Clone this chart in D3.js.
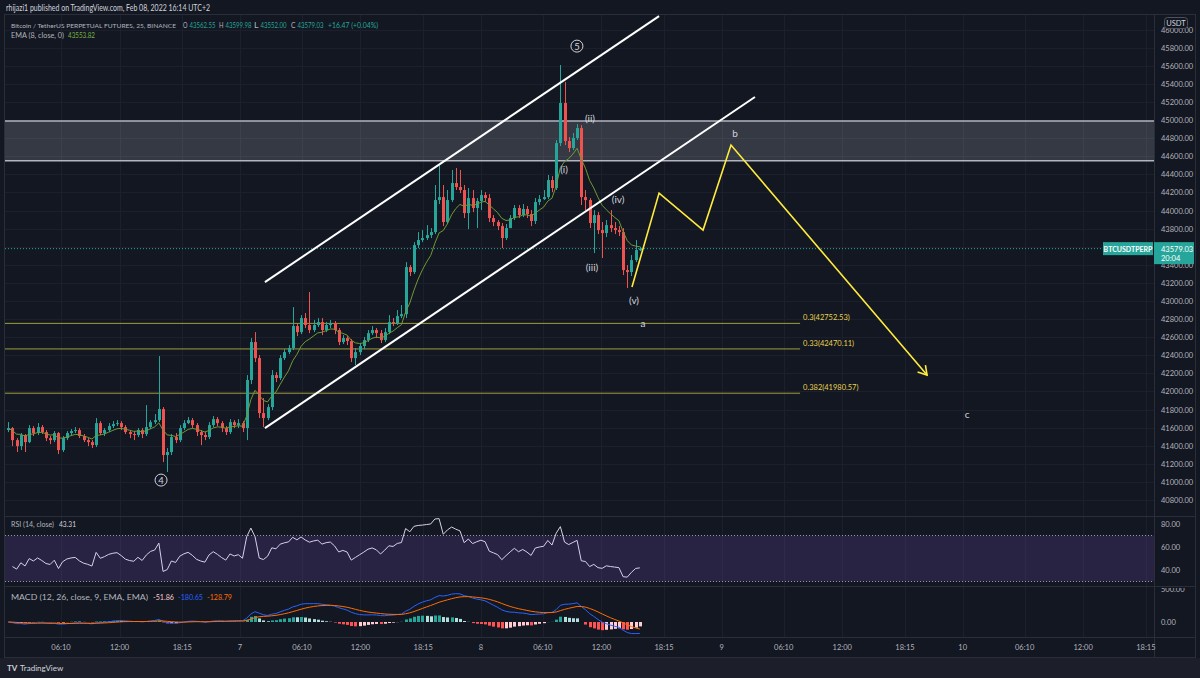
<!DOCTYPE html>
<html>
<head>
<meta charset="utf-8">
<script src="https://cdn.jsdelivr.net/npm/d3@7"></script>
<style>
body { margin: 0; background: #131722; }
svg { display: block; font-family: "Lato", "Open Sans", sans-serif; }
</style>
</head>
<body>
<svg id="chart" width="1200" height="678"></svg>
<script>
// 25 minute candles, BTCUSDT perp, open of each bar = close of the one before
const firstOpen = 41573
const closes = [41595,41462,41396,41518,41440,41595,41540,41606,41551,41484,
  41462,41540,41352,41484,41540,41562,41573,41507,41462,41440,
  41407,41650,41540,41573,41617,41639,41650,41606,41551,41529,
  41518,41573,41529,41606,41661,41683,41805,41297,41330,41496,
  41462,41595,41650,41683,41628,41551,41518,41496,41628,41694,
  41650,41595,41551,41661,41628,41650,41595,42126,42546,42369,
  41761,41706,41827,42181,42148,42369,42435,42480,42723,42656,
  42811,42734,42679,42734,42767,42679,42734,42756,42679,42546,
  42590,42557,42369,42435,42502,42568,42645,42679,42645,42568,
  42656,42767,42756,42833,42855,43375,43320,43618,43674,43696,
  43729,43762,44116,44149,43873,44116,44304,44260,44227,43972,
  44138,44028,44105,44171,44138,43917,43873,43828,43696,43806,
  43917,44028,43950,44017,43961,43884,44094,44127,44149,44337,
  44249,44746,45189,44769,44691,44802,44912,44149,44116,43862,
  43950,43784,43751,43839,43806,43784,43762,43342,43320,43452,
  43562.55,43579.03]
const highs = [41661,41606,41484,41540,41529,41628,41617,41650,41628,41573,
  41507,41562,41551,41507,41562,41584,41606,41595,41529,41484,
  41462,41706,41672,41595,41650,41672,41683,41672,41628,41573,
  41562,41595,41595,41849,41683,41750,42391,41827,41374,41529,
  41540,41628,41683,41717,41706,41650,41573,41551,41661,41728,
  41717,41672,41617,41694,41683,41694,41672,42181,42590,42656,
  42402,41927,41860,42236,42214,42402,42468,42513,42933,42745,
  42844,42867,43099,42789,42811,42811,42767,42789,42778,42701,
  42623,42612,42579,42480,42535,42601,42679,42723,42701,42679,
  42701,42844,42811,42900,42955,43430,43397,43651,43762,43784,
  43839,43806,44282,44503,44282,44227,44448,44470,44448,44282,
  44249,44227,44138,44227,44204,44182,43950,43895,43862,43851,
  43950,44061,44061,44072,44050,44005,44138,44171,44227,44393,
  44381,44780,45609,45421,44813,44857,44956,44945,44227,44138,
  44005,43983,43873,43895,44005,43873,43828,43806,43397,43508,
  43674,43599.98]
const lows = [41551,41396,41330,41352,41330,41429,41507,41518,41529,41451,
  41418,41440,41308,41330,41462,41518,41540,41484,41440,41396,
  41374,41385,41518,41507,41551,41595,41617,41573,41529,41484,
  41462,41496,41484,41507,41584,41639,41661,41219,41109,41297,
  41429,41440,41573,41639,41595,41507,41407,41462,41473,41606,
  41617,41551,41518,41529,41595,41595,41551,41462,42081,42325,
  41706,41606,41683,41794,42104,42126,42347,42413,42457,42612,
  42634,42701,42645,42656,42712,42623,42656,42701,42634,42513,
  42524,42513,42325,42292,42402,42468,42546,42623,42590,42535,
  42546,42634,42723,42734,42811,42811,43276,43298,43585,43651,
  43674,43696,43740,44072,43828,43851,44094,44227,44193,43917,
  43795,43983,43806,44005,44094,43873,43828,43784,43585,43674,
  43806,43895,43917,43928,43917,43828,43851,44061,44116,44127,
  44204,44227,44713,44724,44647,44669,44780,44061,44005,43806,
  43530,43740,43475,43707,43762,43740,43718,43287,43143,43276,
  43430,43552]
const candleStart = "2022-02-06 00:55"
const candleMinutes = 25

const priceTicks = d3.range(40800, 46001, 200)
const timeTicks = [
  ["2022-02-06 06:10", "06:10"], ["2022-02-06 12:00", "12:00"], ["2022-02-06 18:15", "18:15"],
  ["2022-02-07 00:00", "7"], ["2022-02-07 06:10", "06:10"], ["2022-02-07 12:00", "12:00"], ["2022-02-07 18:15", "18:15"],
  ["2022-02-08 00:00", "8"], ["2022-02-08 06:10", "06:10"], ["2022-02-08 12:00", "12:00"], ["2022-02-08 18:15", "18:15"],
  ["2022-02-09 00:00", "9"], ["2022-02-09 06:10", "06:10"], ["2022-02-09 12:00", "12:00"], ["2022-02-09 18:15", "18:15"],
  ["2022-02-10 00:00", "10"], ["2022-02-10 06:10", "06:10"], ["2022-02-10 12:00", "12:00"], ["2022-02-10 18:15", "18:15"]
]
const rsiTicks = [40, 60, 80]
const macdTicks = [0, 500]

const fibRatios = ["0.3", "0.33", "0.382"]
const fibPrices = [42752.53, 42470.11, 41980.57]
const fibSpan = ["2022-02-06 00:00", "2022-02-09 07:48"]
const zonePrices = [44550, 44990]
const channelUpper = [["2022-02-07 02:29", 43209], ["2022-02-08 17:45", 46150]]
const channelLower = [["2022-02-07 02:29", 41595], ["2022-02-09 03:18", 45255]]
const projection = [["2022-02-08 15:03", 43154], ["2022-02-08 17:45", 44193], ["2022-02-08 22:08", 43784],
  ["2022-02-09 00:55", 44724], ["2022-02-09 20:27", 42181]]
const waveLabels = [
  ["2022-02-08 08:17", 44459, "(i)"], ["2022-02-08 10:52", 45022, "(ii)"], ["2022-02-08 11:04", 43375, "(iii)"],
  ["2022-02-08 13:40", 44127, "(iv)"], ["2022-02-08 15:15", 43011, "(v)"],
  ["2022-02-08 16:09", 42756, "a"], ["2022-02-09 01:19", 44857, "b"], ["2022-02-10 00:26", 41750, "c"]
]
const circledLabels = [["2022-02-08 09:34", 45818, "5"], ["2022-02-06 16:08", 41020, "4"]]
const lastPrice = 43579.03
const ohlcLegend = [["O", "43562.55", 183], ["H", "43599.98", 219], ["L", "43552.00", 254], ["C", "43579.03", 291]]

const parse = d3.timeParse("%Y-%m-%d %H:%M")
const svg = d3.select("#chart")

const left = 5, right = 1154
const main = {top: 15, bottom: 516}
const rsiPane = {top: 517, bottom: 586}
const macdPane = {top: 587, bottom: 637}

const x = d3.scaleTime()
  .domain([parse("2022-02-06 00:00"), parse("2022-02-10 00:00")])
  .range([-0.9, 962.7])
const y = d3.scaleLinear().domain([40623, 46162]).range([main.bottom, main.top])
const yRsi = d3.scaleLinear().domain([26.1, 86.1]).range([rsiPane.bottom, rsiPane.top])
const yMacd = d3.scaleLinear().domain([0, 500]).range([622, 589])

// build candles
let t0 = parse(candleStart)
let candles = closes.map((c, i) => ({
  date: d3.timeMinute.offset(t0, i * candleMinutes),
  open: i === 0 ? firstOpen : closes[i - 1],
  close: c, high: highs[i], low: lows[i]
}))

function ema(values, len){
  let k = 2 / (len + 1), out = [], prev = values[0]
  values.forEach(v => { prev = v * k + prev * (1 - k); out.push(prev) })
  return out
}

function rsi(values, len){
  let ch = values.slice(1).map((v, i) => v - values[i])
  let ag = d3.mean(ch.slice(0, len), d => Math.max(d, 0))
  let al = d3.mean(ch.slice(0, len), d => Math.max(-d, 0))
  let out = [null]
  ch.forEach(d => {
    ag = (ag * (len - 1) + Math.max(d, 0)) / len
    al = (al * (len - 1) + Math.max(-d, 0)) / len
    out.push(al === 0 ? 100 : 100 - 100 / (1 + ag / al))
  })
  return out
}

let emaLine = ema(closes, 8)
let rsiLine = rsi(closes, 14)
let fast = ema(closes, 12), slow = ema(closes, 26)
let macd = fast.map((f, i) => f - slow[i])
let signal = ema(macd, 9)
let hist = macd.map((m, i) => m - signal[i])

// text with a fixed width, so it lines up with the screenshot
function label(g, x0, y0, str, width, color, size){
  return g.append("text").attr("x", x0).attr("y", y0)
    .attr("fill", color).attr("font-size", size || 8)
    .attr("textLength", width).attr("lengthAdjust", "spacingAndGlyphs")
    .text(str)
}

// background and frame
svg.append("rect").attr("width", 1200).attr("height", 678).attr("fill", "#131722")
svg.append("rect").attr("x", 0).attr("y", 658).attr("width", 1200).attr("height", 20).attr("fill", "#1c1f29")

let defs = svg.append("defs")
defs.append("clipPath").attr("id", "clip-main").append("rect")
  .attr("x", left).attr("y", main.top).attr("width", right - left).attr("height", main.bottom - main.top)
defs.append("clipPath").attr("id", "clip-rsi").append("rect")
  .attr("x", left).attr("y", rsiPane.top).attr("width", right - left).attr("height", rsiPane.bottom - rsiPane.top)
defs.append("clipPath").attr("id", "clip-macd").append("rect")
  .attr("x", left).attr("y", macdPane.top).attr("width", right - left).attr("height", macdPane.bottom - macdPane.top)
defs.append("clipPath").attr("id", "clip-macd-axis").append("rect")
  .attr("x", right).attr("y", macdPane.top + 1).attr("width", 46).attr("height", macdPane.bottom - macdPane.top)

// grid
let grid = svg.append("g").attr("stroke", "#1c202c").attr("stroke-width", 1)
grid.selectAll("line.h").data(priceTicks).join("line")
  .attr("x1", left).attr("x2", right)
  .attr("y1", d => Math.round(y(d)) + 0.5).attr("y2", d => Math.round(y(d)) + 0.5)
grid.selectAll("line.v").data(timeTicks).join("line")
  .attr("x1", d => Math.round(x(parse(d[0]))) + 0.5).attr("x2", d => Math.round(x(parse(d[0]))) + 0.5)
  .attr("y1", main.top).attr("y2", macdPane.bottom)

// pane separators and frame
let sep = svg.append("g").attr("stroke", "#2a2e39").attr("stroke-width", 1)
;[main.bottom, rsiPane.bottom, macdPane.bottom].forEach(v => {
  sep.append("line").attr("x1", 4).attr("x2", 1196).attr("y1", v + 0.5).attr("y2", v + 0.5)
})
sep.append("line").attr("x1", right + 0.5).attr("x2", right + 0.5).attr("y1", main.top).attr("y2", 657)
svg.append("rect").attr("x", 4.5).attr("y", main.top - 0.5).attr("width", 1191).attr("height", 643)
  .attr("fill", "none").attr("stroke", "#2a2e39")

let plot = svg.append("g").attr("clip-path", "url(#clip-main)")

// resistance zone
plot.append("rect")
  .attr("x", left).attr("width", right - left)
  .attr("y", y(zonePrices[1])).attr("height", y(zonePrices[0]) - y(zonePrices[1]))
  .attr("fill", "rgba(178, 181, 190, 0.22)")
zonePrices.forEach(p => {
  plot.append("line").attr("x1", left).attr("x2", right).attr("y1", y(p)).attr("y2", y(p))
    .attr("stroke", "#b2b5be").attr("stroke-width", 1.5)
})

// fib levels
fibPrices.forEach((p, i) => {
  plot.append("line")
    .attr("x1", x(parse(fibSpan[0]))).attr("x2", x(parse(fibSpan[1])))
    .attr("y1", y(p)).attr("y2", y(p))
    .attr("stroke", "#a09c3a").attr("stroke-width", 1)
  plot.append("text")
    .attr("x", x(parse(fibSpan[1])) + 3).attr("y", y(p) - 3)
    .attr("fill", "#e8d44d").attr("font-size", 7.5)
    .text(`${fibRatios[i]}(${p.toFixed(2)})`)
})

// last price line
plot.append("line").attr("x1", left).attr("x2", right)
  .attr("y1", y(lastPrice)).attr("y2", y(lastPrice))
  .attr("stroke", "#26a69a").attr("stroke-dasharray", "1,2")

// candles
let bw = 3
let cg = plot.append("g")
cg.selectAll("line").data(candles).join("line")
  .attr("x1", d => Math.round(x(d.date)) + 0.5).attr("x2", d => Math.round(x(d.date)) + 0.5)
  .attr("y1", d => y(d.high)).attr("y2", d => y(d.low))
  .attr("stroke", d => d.close >= d.open ? "#26a69a" : "#ef5350")
cg.selectAll("rect").data(candles).join("rect")
  .attr("x", d => Math.round(x(d.date)) - 1)
  .attr("width", bw)
  .attr("y", d => y(Math.max(d.open, d.close)))
  .attr("height", d => Math.max(1, Math.abs(y(d.open) - y(d.close))))
  .attr("fill", d => d.close >= d.open ? "#26a69a" : "#ef5350")

// ema 8
plot.append("path")
  .datum(candles)
  .attr("d", d3.line().x(d => x(d.date)).y((d, i) => y(emaLine[i])))
  .attr("fill", "none").attr("stroke", "#6f9a36").attr("stroke-width", 1)

// channel
;[channelUpper, channelLower].forEach(seg => {
  plot.append("line")
    .attr("x1", x(parse(seg[0][0]))).attr("y1", y(seg[0][1]))
    .attr("x2", x(parse(seg[1][0]))).attr("y2", y(seg[1][1]))
    .attr("stroke", "#ffffff").attr("stroke-width", 2)
})

// projected path
let pts = projection.map(d => [x(parse(d[0])), y(d[1])])
plot.append("path")
  .attr("d", d3.line()(pts))
  .attr("fill", "none").attr("stroke", "#ffeb3b").attr("stroke-width", 1.6)
let end = pts[pts.length - 1], prevPt = pts[pts.length - 2]
let ang = Math.atan2(end[1] - prevPt[1], end[0] - prevPt[0])
let head = [ang + 2.6, ang - 2.6].map(a => [end[0] + 10 * Math.cos(a), end[1] + 10 * Math.sin(a)])
plot.append("path")
  .attr("d", d3.line()([head[0], end, head[1]]))
  .attr("fill", "none").attr("stroke", "#ffeb3b").attr("stroke-width", 1.6)

// wave labels
plot.selectAll("text.wave").data(waveLabels).join("text")
  .attr("class", "wave")
  .attr("x", d => x(parse(d[0]))).attr("y", d => y(d[1]) + 4)
  .attr("text-anchor", "middle").attr("fill", "#d1d4dc").attr("font-size", 10)
  .text(d => d[2])
let circ = plot.selectAll("g.circ").data(circledLabels).join("g")
  .attr("transform", d => `translate(${x(parse(d[0]))},${y(d[1])})`)
circ.append("circle").attr("r", 6).attr("fill", "none").attr("stroke", "#d1d4dc").attr("stroke-width", 1)
circ.append("text").attr("y", 3.5).attr("text-anchor", "middle")
  .attr("fill", "#d1d4dc").attr("font-size", 9.5).text(d => d[2])

// rsi pane
let rp = svg.append("g").attr("clip-path", "url(#clip-rsi)")
rp.append("rect").attr("x", left).attr("width", right - left)
  .attr("y", yRsi(70)).attr("height", yRsi(30) - yRsi(70))
  .attr("fill", "rgba(126, 87, 194, 0.2)")
;[70, 30].forEach(v => {
  rp.append("line").attr("x1", left).attr("x2", right).attr("y1", yRsi(v)).attr("y2", yRsi(v))
    .attr("stroke", "#9598a1").attr("stroke-dasharray", "1,2")
})
rp.append("path")
  .datum(candles.slice(1))
  .attr("d", d3.line().x(d => x(d.date)).y((d, i) => yRsi(rsiLine[i + 1])))
  .attr("fill", "none").attr("stroke", "#d8d0ea").attr("stroke-width", 1)

// macd pane
let mp = svg.append("g").attr("clip-path", "url(#clip-macd)")
mp.selectAll("rect").data(candles).join("rect")
  .attr("x", d => Math.round(x(d.date)) - 1)
  .attr("width", bw)
  .attr("y", (d, i) => yMacd(Math.max(0, hist[i])))
  .attr("height", (d, i) => Math.abs(yMacd(hist[i]) - yMacd(0)))
  .attr("fill", (d, i) => {
    let prev = i > 0 ? hist[i - 1] : 0
    if (hist[i] >= 0) return hist[i] >= prev ? "#26a69a" : "#b2dfdb"
    return hist[i] <= prev ? "#ff5252" : "#ffcdd2"
  })
mp.append("path").datum(candles)
  .attr("d", d3.line().x(d => x(d.date)).y((d, i) => yMacd(macd[i])))
  .attr("fill", "none").attr("stroke", "#2962ff").attr("stroke-width", 1)
mp.append("path").datum(candles)
  .attr("d", d3.line().x(d => x(d.date)).y((d, i) => yMacd(signal[i])))
  .attr("fill", "none").attr("stroke", "#ff6d00").attr("stroke-width", 1)

// price axis
let axisColor = "#b2b5be"
svg.append("g").selectAll("text").data(priceTicks).join("text")
  .attr("x", 1161).attr("y", d => y(d) + 3)
  .attr("fill", axisColor).attr("font-size", 7.5)
  .text(d => d.toFixed(2))
svg.append("g").selectAll("text").data(rsiTicks).join("text")
  .attr("x", 1161).attr("y", d => yRsi(d) + 3)
  .attr("fill", axisColor).attr("font-size", 7.5)
  .text(d => d.toFixed(2))
svg.append("g").attr("clip-path", "url(#clip-macd-axis)")
  .selectAll("text").data(macdTicks).join("text")
  .attr("x", 1161).attr("y", d => yMacd(d) + 3)
  .attr("fill", axisColor).attr("font-size", 7.5)
  .text(d => d.toFixed(2))

// USDT badge, sits over the top price label like in the app
svg.append("rect").attr("x", 1164.5).attr("y", 17.5).attr("width", 23).attr("height", 11).attr("rx", 3)
  .attr("fill", "#131722").attr("stroke", "#50535e")
svg.append("text").attr("x", 1176).attr("y", 25.8).attr("text-anchor", "middle")
  .attr("fill", "#d1d4dc").attr("font-size", 7.5).text("USDT")

// last price tags
svg.append("rect").attr("x", 1103).attr("y", y(lastPrice) - 6.5).attr("width", 50).attr("height", 13)
  .attr("fill", "#26a69a")
svg.append("text").attr("x", 1128).attr("y", y(lastPrice) + 3).attr("text-anchor", "middle")
  .attr("fill", "#ffffff").attr("font-size", 7).attr("font-weight", "bold").text("BTCUSDTPERP")
svg.append("rect").attr("x", 1154).attr("y", y(lastPrice) - 6.5).attr("width", 40).attr("height", 22)
  .attr("fill", "#26a69a")
svg.append("text").attr("x", 1161).attr("y", y(lastPrice) + 3)
  .attr("fill", "#ffffff").attr("font-size", 7.5).text(lastPrice.toFixed(2))
svg.append("text").attr("x", 1161).attr("y", y(lastPrice) + 12.5)
  .attr("fill", "#ffffff").attr("font-size", 7.5).text("20:04")

// time axis
svg.append("g").selectAll("text").data(timeTicks).join("text")
  .attr("x", d => x(parse(d[0]))).attr("y", 650)
  .attr("text-anchor", "middle").attr("fill", axisColor).attr("font-size", 7.5)
  .text(d => d[1])

// header
let gray = "#b2b5be", up = "#26a69a"
let hdr = svg.append("g")
label(hdr, 6, 11, "rhijazi1 published on TradingView.com, Feb 08, 2022 16:14 UTC+2", 204, "#d1d4dc", 8.5)
label(hdr, 11, 28, "Bitcoin / TetherUS PERPETUAL FUTURES, 25, BINANCE", 165, gray, 6.5)
ohlcLegend.forEach(d => {
  label(hdr, d[2], 28, d[0], 4.5, gray, 7)
  label(hdr, d[2] + 6.5, 28, d[1], 26, up, 7)
})
label(hdr, 328, 28, "+16.47 (+0.04%)", 50, up, 7)
label(hdr, 11, 38, "EMA (8, close, 0)", 53, gray, 7.5)
label(hdr, 68, 38, "43553.82", 27, "#7cb342", 7.5)

label(hdr, 11, 527, "RSI (14, close)", 43, gray, 7.5)
label(hdr, 59, 527, "43.31", 17, "#d1d4dc", 7.5)
label(hdr, 11, 600, "MACD (12, 26, close, 9, EMA, EMA)", 137, gray, 7.5)
label(hdr, 153, 600, "-51.86", 21, "#ffcdd2", 7.5)
label(hdr, 178, 600, "-180.65", 25, "#2962ff", 7.5)
label(hdr, 207, 600, "-128.79", 25, "#ff6d00", 7.5)

// footer logo
svg.append("text").attr("x", 7).attr("y", 671).attr("fill", "#d1d4dc").attr("font-size", 8)
  .attr("font-weight", "bold").text("TV")
svg.append("text").attr("x", 20).attr("y", 671).attr("fill", "#d1d4dc").attr("font-size", 8)
  .text("TradingView")
</script>
</body>
</html>
